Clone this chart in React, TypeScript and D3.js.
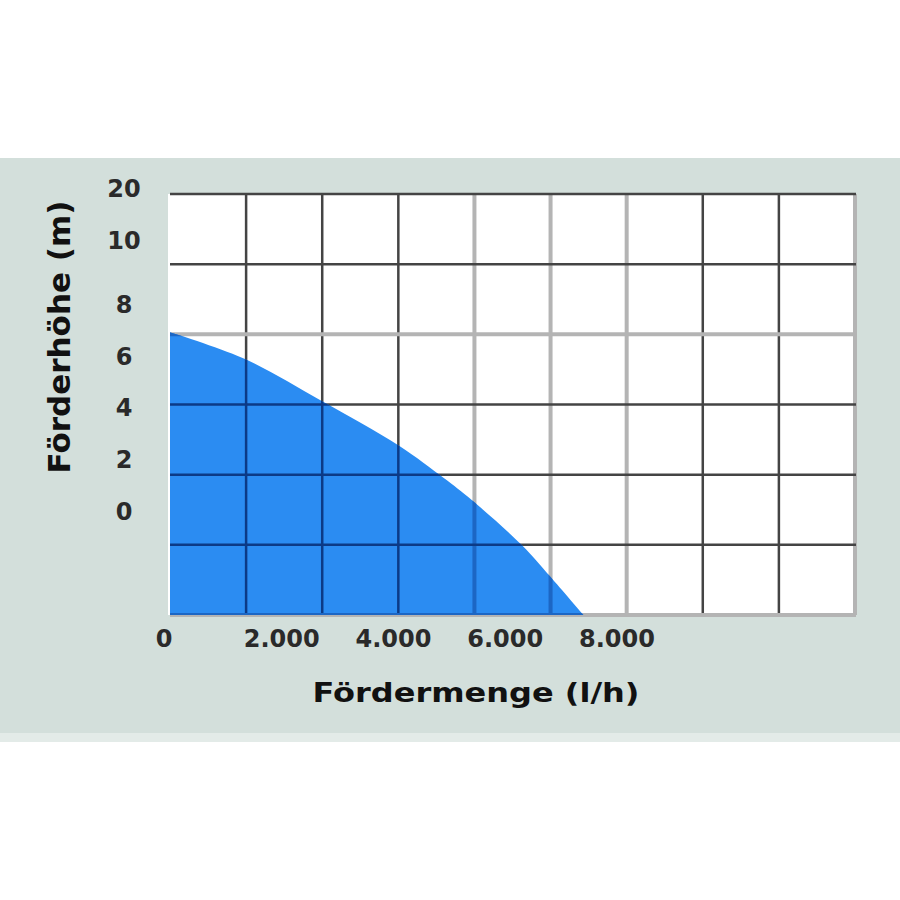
import * as React from 'react';
import * as d3 from 'd3';

// pump curve
const flowValues = [0, 1300, 2700, 4100, 4900, 5400, 6300, 6800, 7400];
const headValues = [6.95, 5.95, 4.3, 2.55, 1.3, 0.45, -1.3, -2.5, -4];

const xTicks = [0, 2000, 4000, 6000, 8000];
const xTickLabels = ['0', '2.000', '4.000', '6.000', '8.000'];
const yTicks = [20, 10, 8, 6, 4, 2, 0];
const yTickLabels = ['20', '10', '8', '6', '4', '2', '0'];

const xTitle = 'Fördermenge (l/h)';
const yTitle = 'Förderhöhe (m)';

const App: React.FC = () => {
  const width = 900;
  const height = 900;
  const plot = { left: 170, right: 855, top: 194, bottom: 615 };
  const font = '"DejaVu Sans", Verdana, sans-serif';

  const x = d3.scaleLinear().domain([0, 8000]).range([plot.left, 617]);
  // the axis labels are not evenly spaced in the picture
  const y = d3
    .scaleLinear()
    .domain([-4, 8, 10, 20])
    .range([plot.bottom, 305, 241, 189]);

  const gridX = d3.scaleLinear().domain([0, 9]).range([plot.left, plot.right]);
  const gridY = d3.scaleLinear().domain([0, 6]).range([plot.top, plot.bottom]);

  const data = flowValues.map((f, i) => ({ flow: f, head: headValues[i] }));

  const area = d3
    .area<{ flow: number; head: number }>()
    .x((d) => x(d.flow))
    .y0(plot.bottom)
    .y1((d) => y(d.head))
    .curve(d3.curveCatmullRom.alpha(0.5));
  const areaPath = area(data) || '';

  const lightCols = [4, 5, 6, 9];
  const lightRows = [2, 6];

  const gridLines = (over: boolean) => (
    <g>
      {d3.range(1, 10).map((i) => {
        const light = lightCols.includes(i);
        return (
          <line
            key={'v' + i}
            x1={gridX(i)}
            x2={gridX(i)}
            y1={plot.top}
            y2={plot.bottom}
            stroke={over ? (light ? '#1c66c4' : '#0c3a86') : light ? '#b4b4b4' : '#444'}
            strokeWidth={light ? 4 : 2.5}
          />
        );
      })}
      {d3.range(0, 7).map((i) => {
        const light = lightRows.includes(i);
        return (
          <line
            key={'h' + i}
            x1={plot.left}
            x2={plot.right + 1}
            y1={gridY(i)}
            y2={gridY(i)}
            stroke={over ? (light ? '#1c66c4' : '#0c3a86') : light ? '#b4b4b4' : '#444'}
            strokeWidth={light ? 4 : 2.5}
          />
        );
      })}
    </g>
  );

  return (
    <svg
      width={width}
      height={height}
      style={{ position: 'fixed', left: 0, top: 0, background: '#fff' }}
    >
      <defs>
        <clipPath id="curveClip">
          <path d={areaPath} />
        </clipPath>
      </defs>
      <rect x={0} y={158} width={width} height={575} fill="#d3dfdb" />
      <rect x={0} y={733} width={width} height={9} fill="#e3ebe8" />

      <rect
        x={plot.left - 2}
        y={plot.top}
        width={plot.right - plot.left + 2}
        height={plot.bottom - plot.top}
        fill="#fff"
      />
      {gridLines(false)}
      <path d={areaPath} fill="#2b8cf2" />
      <g clipPath="url(#curveClip)">{gridLines(true)}</g>

      <g fontFamily={font} fontWeight="bold" fontSize={24} fill="#2a2a2a">
        {xTicks.map((t, i) => (
          <text
            key={t}
            x={x(t) - (t === 0 ? 6 : 0)}
            y={639}
            textAnchor="middle"
            dominantBaseline="central"
          >
            {xTickLabels[i]}
          </text>
        ))}
        {yTicks.map((t, i) => (
          <text key={t} x={124} y={y(t)} textAnchor="middle" dominantBaseline="central">
            {yTickLabels[i]}
          </text>
        ))}
      </g>

      <text
        x={476}
        y={702}
        textAnchor="middle"
        fontFamily={font}
        fontWeight="bold"
        fontSize={27}
        fill="#111"
        textLength={327}
        lengthAdjust="spacingAndGlyphs"
      >
        {xTitle}
      </text>
      <text
        transform="translate(70, 337) rotate(-90)"
        textAnchor="middle"
        fontFamily={font}
        fontWeight="bold"
        fontSize={30}
        fill="#111"
        textLength={273}
        lengthAdjust="spacingAndGlyphs"
      >
        {yTitle}
      </text>
    </svg>
  );
};

export default App;
